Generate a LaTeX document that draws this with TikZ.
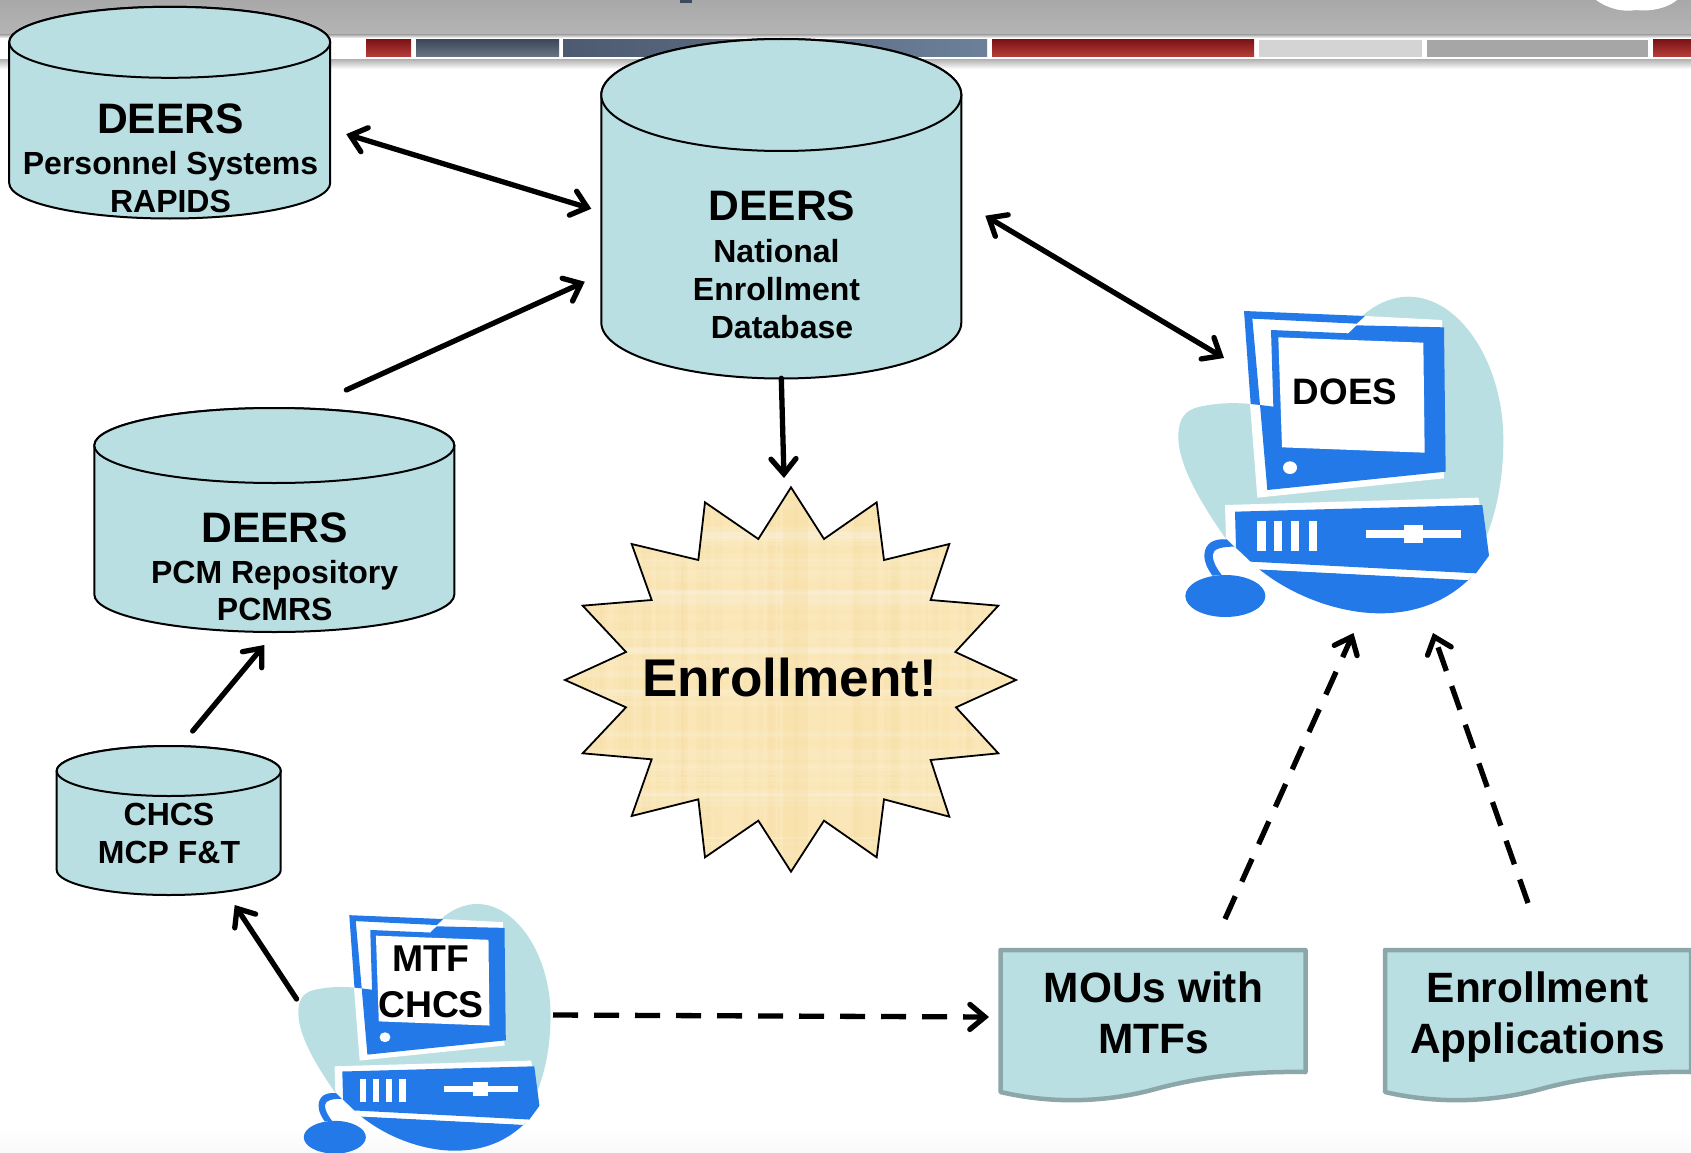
\documentclass[tikz,border=0pt]{standalone}
\usepackage{fontspec}
\setmainfont{Liberation Sans}
\usetikzlibrary{arrows.meta,calc}
\definecolor{cylfill}{HTML}{B9DFE3}
\definecolor{pcblue}{HTML}{2479E8}
\definecolor{docline}{HTML}{8CA7A9}
\definecolor{starfill}{HTML}{FAE6B6}
\definecolor{startex}{HTML}{F3D48E}
\definecolor{reda}{HTML}{7E1416}
\definecolor{redb}{HTML}{B6403A}
\definecolor{slatea}{HTML}{3E4A5C}
\definecolor{slateb}{HTML}{6A7585}
\definecolor{slatec}{HTML}{4D5A70}
\definecolor{slated}{HTML}{6C8099}
\newcommand\fs[2]{\fontsize{#1}{#2}\selectfont}
\tikzset{
  barbhead/.tip={Straight Barb[length=15pt,width=25pt,line cap=round]},
  link/.style={line width=5.3pt,line cap=round,-{barbhead}},
  bothlink/.style={line width=5.3pt,line cap=round,{barbhead}-{barbhead}},
  dashlink/.style={line width=5.3pt,-{barbhead},dash pattern=on 25pt off 16pt},
  label/.style={align=center,inner sep=0pt,text=black},
  anchorbox/.style={inner sep=0pt,outer sep=0pt,draw=none,fill=none},
  cylshape/.style={fill=cylfill,draw=black,line width=2pt},
  pcpart/.style={fill=pcblue,draw=none},
  pcwhite/.style={fill=white,draw=none},
}
% name, cx, top-ellipse cy, rx, ry, bottom-side y
\newcommand\dbcyl[6]{%
  \path[cylshape] (#2-#4,#3) -- (#2-#4,#6)
     arc[start angle=180,end angle=360,x radius=#4pt,y radius=#5pt]
     -- (#2+#4,#3) arc[start angle=0,end angle=180,x radius=#4pt,y radius=#5pt] -- cycle;
  \path[cylshape] (#2,#3) ellipse[x radius=#4pt,y radius=#5pt];
  \node[anchorbox,minimum width=2*#4pt,minimum height=#6pt-#3pt+2*#5pt] (#1) at (#2,{(#3+#6)/2}) {};
}
% left x, right x : document body
\newcommand\docshape[2]{%
  \path[fill=cylfill,draw=docline,line width=4.5pt,line join=round]
    (#1,950) -- (#2,950) -- (#2,1072)
    .. controls (#2-60,1071) and (#2-110,1078) .. (#2-150,1089)
    .. controls (#2-190,1100) and (#1+60,1106) .. (#1,1092) -- cycle;
}
\newcommand\pcart{%
  % pale blob
  \path[fill=cylfill] (610,105) .. controls (650,70) and (700,50) .. (745,50)
    .. controls (900,50) and (1030,250) .. (1030,480)
    .. controls (1030,620) and (1000,720) .. (975,780) -- (930,900)
    -- (300,870) -- (200,780)
    .. controls (130,680) and (55,560) .. (55,470)
    .. controls (55,400) and (90,385) .. (130,378)
    .. controls (180,368) and (230,368) .. (272,372) -- (340,380) -- cycle;
  % blue belly
  \path[pcpart] (298,868) -- (925,900) .. controls (850,970) and (760,1000) .. (660,1000)
    .. controls (540,1000) and (400,950) .. (298,868) -- cycle;
  % monitor
  \path[pcwhite] (277,116) -- (590,131) -- (615,108) -- (846,120) -- (852,595) -- (292,653) -- (270,372) -- cycle;
  \path[pcpart] (252,93) -- (615,108) -- (590,131) -- (277,116) -- (300,375) -- (272,372) -- cycle;
  \path[pcpart] (333,150) -- (565,160) -- (590,136) -- (852,142) -- (857,575) -- (322,630) -- (300,375) -- (340,380) -- cycle;
  \path[pcwhite] (355,172) -- (790,188) -- (794,518) -- (366,502) -- cycle;
  \path[pcwhite] (390,563) ellipse[x radius=21,y radius=19];
  % base
  \path[pcwhite] (195,675) -- (955,653) -- (987,827) -- (925,900) -- (298,868) -- (198,775) -- cycle;
  \path[pcpart] (225,695) -- (967,675) -- (987,827) -- (948,880) -- (272,845) -- (228,803) -- cycle;
  \foreach \xa/\xb in {292/317,342/367,393/417,446/470}
    \path[pcwhite] (\xa,723) rectangle (\xb,813);
  \path[pcwhite] (617,751) rectangle (903,774);
  \path[pcwhite] (731,735) rectangle (789,789);
  % mouse
  \path[pcpart] (200,778) .. controls (160,775) and (135,790) .. (133,825)
    .. controls (133,850) and (145,870) .. (157,887) -- (185,885)
    .. controls (170,865) and (158,845) .. (158,825)
    .. controls (158,805) and (190,800) .. (222,800) -- cycle;
  \path[pcpart] (196,948) ellipse[x radius=120,y radius=63];
}
\def\starpts{(723,52) -- (822,207) -- (980,97) -- (1002,270) -- (1198,222) -- (1142,390) -- (1345,407) -- (1216,546) -- (1398,630) -- (1218,712) -- (1345,850) -- (1142,870) -- (1198,1040) -- (1002,988) -- (980,1162) -- (822,1052) -- (723,1205) -- (625,1052) -- (465,1162) -- (445,988) -- (245,1038) -- (305,868) -- (98,850) -- (228,712) -- (45,630) -- (228,546) -- (98,407) -- (305,390) -- (245,222) -- (445,270) -- (465,97) -- (625,207) -- cycle}
\begin{document}
\begin{tikzpicture}[x=1pt,y=-1pt]
\useasboundingbox[fill=white] (0,0) rectangle (1691,1153);
\shade[top color=white,bottom color=black!2] (0,1125) rectangle (1691,1153);
% ---------- header banner
\shade[top color=black!34,bottom color=black!29] (0,0) rectangle (1691,35);
\shade[top color=black!29,bottom color=white] (0,35) rectangle (1691,38);
\shade[top color=black!28,bottom color=white] (0,60) rectangle (1691,69);
\shade[top color=reda,bottom color=redb] (366,40) rectangle (411,57);
\shade[top color=slatea,bottom color=slateb] (416,40) rectangle (559,57);
\shade[left color=slatec,right color=slated] (563,40) rectangle (987,57);
\shade[top color=reda,bottom color=redb] (992,40) rectangle (1254,57);
\path[fill=black!17] (1259,40) rectangle (1422,57);
\path[fill=black!35] (1427,40) rectangle (1648,57);
\shade[top color=reda,bottom color=redb] (1653,40) rectangle (1691,57);
\path[fill=slatea] (680,0) rectangle (692,3);
\path[fill=white] (1596,0) .. controls (1610,10) and (1625,12) .. (1636,10) .. controls (1650,12) and (1668,8) .. (1677,0) -- cycle;
% ---------- databases
\dbcyl{pers}{169.7}{42.3}{160.5}{35.5}{183}
\dbcyl{nat}{781.3}{95}{180}{56}{322.5}
\dbcyl{pcm}{274.3}{445.5}{180}{37.5}{594.5}
\dbcyl{chcs}{168.7}{771}{112}{25}{870}
\node[label,font=\bfseries\fs{32}{37.5}] (persT) at (170.5,158) {{\fs{42.6}{37.5}DEERS}\\[4.3pt]Personnel Systems\\RAPIDS};
\node[label,font=\bfseries\fs{32}{38}] (natT) at (782,265) {{\fs{42.6}{38}DEERS}\\[4.3pt]National\kern11pt\\Enrollment\kern11pt\\Database};
\node[label,font=\bfseries\fs{32}{37}] (pcmT) at (274.7,567) {{\fs{42.6}{37}DEERS}\\[4.3pt]PCM Repository\\PCMRS};
\node[label,font=\bfseries\fs{32}{38}] (chcsT) at (169,833) {CHCS\\MCP F\&T};
% ---------- starburst
\begin{scope}[shift={(550,470)},x=0.33333pt,y=-0.33333pt]
  \path[fill=starfill] \starpts;
  \begin{scope}
    \clip \starpts;
    \pgfmathsetseed{7}
    \foreach \k in {1,...,70}{
      \pgfmathsetmacro\px{40+1360*rnd}
      \pgfmathsetmacro\wd{6+22*rnd}
      \pgfmathsetmacro\op{0.04+0.08*rnd}
      \path[fill=startex,opacity=\op] (\px,0) rectangle (\px+\wd,1250);
    }
    \foreach \k in {1,...,60}{
      \pgfmathsetmacro\py{40+1180*rnd}
      \pgfmathsetmacro\wd{6+20*rnd}
      \pgfmathsetmacro\op{0.05+0.1*rnd}
      \path[fill=white,opacity=\op] (0,\py) rectangle (1450,\py+\wd);
    }
    \path[fill=startex,opacity=.2] (700,0) rectangle (775,1250);
  \end{scope}
  \path[draw=black,line width=1.8pt,line join=miter] \starpts;
\end{scope}
\node[label,font=\bfseries\fs{53.1}{60}] (enroll) at (789.5,678) {Enrollment!};
% ---------- computers
\begin{scope}[shift={(1160,280)},x=0.33333pt,y=-0.33333pt]
  \pcart
\end{scope}
\node[label,font=\bfseries\fs{36.8}{44}] (does) at (1345,392) {DOES};
\begin{scope}[shift={(284.1,891)},x=0.2587pt,y=-0.2597pt]
  \pcart
\end{scope}
\node[label,font=\bfseries\fs{37.3}{46}] (mtf) at (431,982) {MTF\\CHCS};
% ---------- documents
\docshape{1000.5}{1305.5}
\docshape{1385}{1691}
\node[label,font=\bfseries\fs{42.4}{51}] (mou) at (1153.5,1013) {MOUs with\\MTFs};
\node[label,font=\bfseries\fs{42.4}{51}] (app) at (1537.5,1017) {Enrollment\\Applications};
% ---------- connectors
\draw[bothlink] ($(pers)+(176.5,21.5)$) -- ($(nat)+(-190,0)$);
\draw[link] ($(pcm)+(72,-130)$) -- ($(nat)+(-196.5,73)$);
\draw[link] ($(nat)+(0,169.5)$) -- ($(enroll)+(-5.5,-200)$);
\draw[bothlink] ($(nat)+(204,7)$) -- ($(does)+(-121,-34)$);
\draw[link] ($(chcs)+(24,-89.5)$) -- ($(pcm)+(-10,125)$);
\draw[link] ($(mtf)+(-134.4,17)$) -- ($(chcs)+(66,84.5)$);
\draw[dashlink] ($(mtf)+(122,33)$) -- ($(mou)+(-164.5,4)$);
\draw[dashlink] ($(mou)+(71.5,-94)$) -- ($(does)+(8.5,241)$);
\draw[dashlink] ($(app)+(-9.5,-114)$) -- ($(does)+(88,241)$);
\end{tikzpicture}
\end{document}
